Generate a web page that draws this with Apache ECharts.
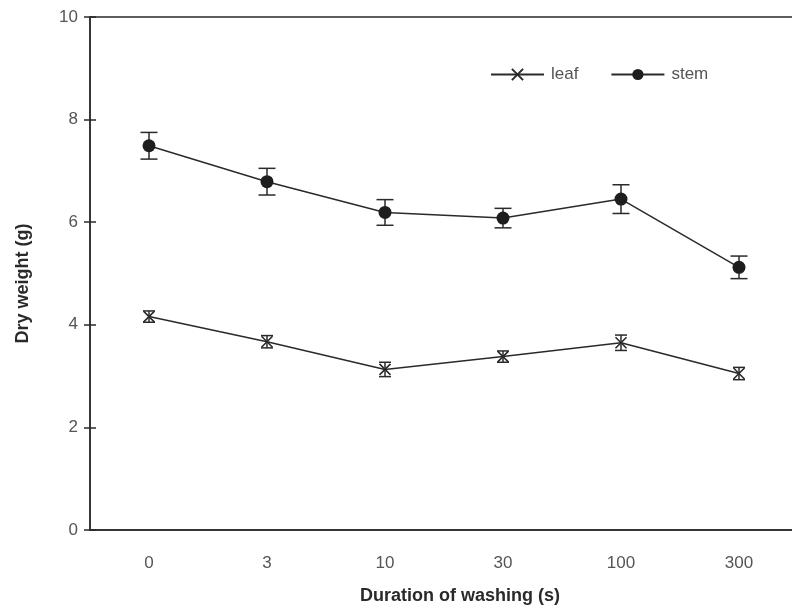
<!DOCTYPE html>
<html>
<head>
<meta charset="utf-8">
<script src="https://cdn.jsdelivr.net/npm/echarts@6/dist/echarts.min.js"></script>
<style>html,body{margin:0;padding:0;background:#fff}#c{width:792px;height:614px}</style>
</head>
<body>
<div id="c"></div>
<script>
var categories = ['0', '3', '10', '30', '100', '300'];
var leafValues = [4.16, 3.67, 3.13, 3.38, 3.65, 3.05];
var leafErrors = [0.11, 0.12, 0.14, 0.11, 0.15, 0.12];
var stemValues = [7.49, 6.79, 6.19, 6.08, 6.45, 5.12];
var stemErrors = [0.26, 0.26, 0.25, 0.19, 0.28, 0.22];
var yTicks = [0, 2, 4, 6, 8, 10];

var FONT = 'Liberation Sans, Arial, sans-serif';
var INK = '#2a2a2a';
var GREY = '#555';

function errData(vals, errs) {
  return vals.map(function (v, i) { return [i, v - errs[i], v + errs[i]]; });
}
function errRender(capHalf) {
  return function (params, api) {
    var x = api.value(0);
    var lo = api.coord([x, api.value(1)]);
    var hi = api.coord([x, api.value(2)]);
    var st = { stroke: INK, lineWidth: 1.5 };
    return {
      type: 'group',
      children: [
        { type: 'line', shape: { x1: lo[0], y1: lo[1], x2: hi[0], y2: hi[1] }, style: st },
        { type: 'line', shape: { x1: lo[0] - capHalf, y1: lo[1], x2: lo[0] + capHalf, y2: lo[1] }, style: st },
        { type: 'line', shape: { x1: hi[0] - capHalf, y1: hi[1], x2: hi[0] + capHalf, y2: hi[1] }, style: st }
      ]
    };
  };
}

var chart = echarts.init(document.getElementById('c'), null, { renderer: 'canvas' });
chart.setOption({
  animation: false,
  backgroundColor: '#fff',
  grid: { left: 90, width: 708, top: 17, bottom: 84, outerBoundsMode: 'none', containLabel: false, show: true, borderColor: INK, borderWidth: 1.5, backgroundColor: 'transparent' },
  legend: {
    left: 490, top: 66, padding: 0,
    itemWidth: 53, itemHeight: 14, itemGap: 32,
    textStyle: { fontFamily: FONT, fontSize: 17, color: GREY, padding: [0, 0, 0, 2] },
    data: ['leaf', 'stem']
  },
  xAxis: [{
    type: 'category',
    data: categories,
    boundaryGap: true,
    axisLine: { lineStyle: { color: INK, width: 1.5 } },
    axisTick: { alignWithLabel: true, length: 5, lineStyle: { color: '#aaa', width: 1 } },
    axisLabel: { fontFamily: FONT, fontSize: 17, color: GREY, margin: 25 },
    name: 'Duration of washing (s)',
    nameLocation: 'middle',
    nameGap: 57,
    nameTextStyle: { fontFamily: FONT, fontSize: 18, fontWeight: 'bold', color: INK, padding: [0, 0, 0, 32] }
  }, {
    type: 'category',
    data: categories,
    position: 'bottom',
    boundaryGap: true,
    axisLine: { show: false },
    axisTick: { alignWithLabel: true, inside: true, length: 5, lineStyle: { color: '#aaa', width: 1 } },
    axisLabel: { show: false }
  }],
  yAxis: [{
    type: 'value',
    min: 0, max: 10, interval: 2,
    splitLine: { show: false },
    axisLine: { show: true, lineStyle: { color: INK, width: 1.5 } },
    axisTick: { show: true, length: 6, lineStyle: { color: INK, width: 1.5 } },
    axisLabel: {
      fontFamily: FONT, fontSize: 17, color: GREY, margin: 12,
      formatter: function (v) { return yTicks.indexOf(v) >= 0 ? String(v) : ''; }
    },
    name: 'Dry weight (g)',
    nameLocation: 'middle',
    nameGap: 58,
    nameTextStyle: { fontFamily: FONT, fontSize: 18, fontWeight: 'bold', color: INK, padding: [0, 20, 0, 0] }
  }, {
    type: 'value',
    min: 0, max: 10, interval: 2,
    position: 'left',
    splitLine: { show: false },
    axisLine: { show: false },
    axisTick: { show: true, inside: true, length: 6, lineStyle: { color: INK, width: 1.5 } },
    axisLabel: { show: false }
  }],
  series: [{
    name: 'leaf',
    type: 'line',
    data: leafValues,
    symbol: 'path://M0,0L10,10M10,0L0,10',
    symbolSize: 11,
    lineStyle: { color: INK, width: 1.5 },
    itemStyle: { color: 'transparent', borderColor: INK, borderWidth: 1.6 },
    z: 3
  }, {
    name: 'stem',
    type: 'line',
    data: stemValues,
    symbol: 'circle',
    symbolSize: 13,
    lineStyle: { color: INK, width: 1.5 },
    itemStyle: { color: '#1e1e1e', borderColor: '#1e1e1e', borderWidth: 0 },
    z: 3
  }, {
    type: 'custom',
    name: 'leafErr',
    data: errData(leafValues, leafErrors),
    renderItem: errRender(6),
    encode: { x: 0, y: [1, 2] },
    z: 2
  }, {
    type: 'custom',
    name: 'stemErr',
    data: errData(stemValues, stemErrors),
    renderItem: errRender(8.5),
    encode: { x: 0, y: [1, 2] },
    z: 2
  }]
});
</script>
</body>
</html>
